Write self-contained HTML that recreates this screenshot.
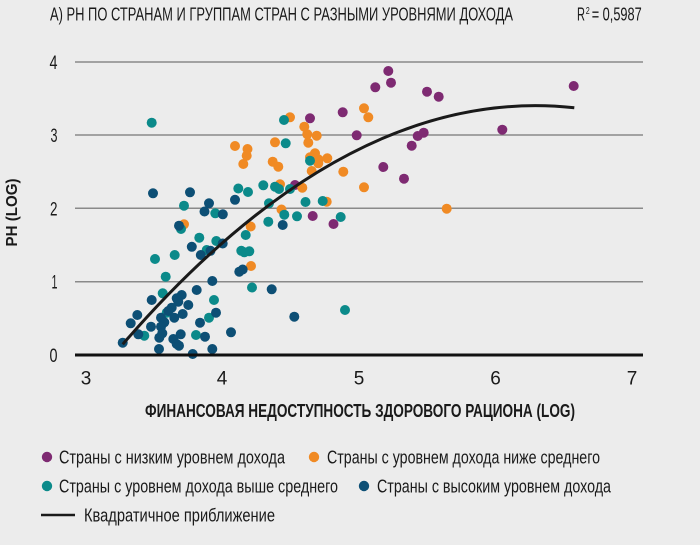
<!DOCTYPE html>
<html><head><meta charset="utf-8"><style>
html,body{margin:0;padding:0;background:#ececec;}
svg{display:block;}
text{font-family:"Liberation Sans Narrow","Liberation Sans",sans-serif;fill:#1a1a1a;}
</style></head><body>
<svg width="700" height="545" viewBox="0 0 700 545" xmlns="http://www.w3.org/2000/svg">
<rect width="700" height="545" fill="#ececec"/>
<text x="50" y="20.5" font-size="18" textLength="463" lengthAdjust="spacingAndGlyphs">А) РН ПО СТРАНАМ И ГРУППАМ СТРАН С РАЗНЫМИ УРОВНЯМИ ДОХОДА</text>
<text x="577" y="20.5" font-size="18" textLength="8" lengthAdjust="spacingAndGlyphs">R</text>
<text x="585.7" y="14" font-size="10" textLength="4" lengthAdjust="spacingAndGlyphs">2</text>
<text x="591.7" y="20.5" font-size="18" textLength="50" lengthAdjust="spacingAndGlyphs">= 0,5987</text>

<g stroke="#8a8a8a" stroke-width="1.5">
<line x1="75" y1="62" x2="643" y2="62"/>
<line x1="75" y1="135" x2="643" y2="135"/>
<line x1="75" y1="208.3" x2="643" y2="208.3"/>
<line x1="75" y1="281.7" x2="643" y2="281.7"/>
</g>

<g font-size="19" text-anchor="end">
<text x="57.5" y="69" textLength="8" lengthAdjust="spacingAndGlyphs">4</text>
<text x="57.5" y="142" textLength="7" lengthAdjust="spacingAndGlyphs">3</text>
<text x="57.5" y="215.5" textLength="7.5" lengthAdjust="spacingAndGlyphs">2</text>
<text x="57.5" y="288.7" textLength="6" lengthAdjust="spacingAndGlyphs">1</text>
<text x="57.5" y="362" textLength="8" lengthAdjust="spacingAndGlyphs">0</text>
</g>
<g font-size="19" text-anchor="middle">
<text x="86" y="384.5">3</text>
<text x="222" y="384.5">4</text>
<text x="359" y="384.5">5</text>
<text x="495.5" y="384.5">6</text>
<text x="632" y="384.5">7</text>
</g>
<text x="145" y="417" font-size="18" font-weight="bold" textLength="430" lengthAdjust="spacingAndGlyphs">ФИНАНСОВАЯ НЕДОСТУПНОСТЬ ЗДОРОВОГО РАЦИОНА (LOG)</text>
<text transform="translate(17,212.5) rotate(-90)" font-size="16" font-weight="bold" text-anchor="middle" textLength="68" lengthAdjust="spacingAndGlyphs">РН (LOG)</text>

<!-- purple -->
<g fill="#7e2a72">
<circle cx="388.3" cy="71" r="5"/><circle cx="391" cy="82.7" r="5"/><circle cx="375.3" cy="87.3" r="5"/>
<circle cx="427" cy="91.7" r="5"/><circle cx="438.7" cy="96.7" r="5"/><circle cx="573.7" cy="86" r="5"/>
<circle cx="342.7" cy="112.3" r="5"/><circle cx="310" cy="118.3" r="5"/><circle cx="356.7" cy="135.3" r="5"/>
<circle cx="417.7" cy="136" r="5"/><circle cx="423.7" cy="132.7" r="5"/><circle cx="411.7" cy="145.7" r="5"/>
<circle cx="502.3" cy="129.7" r="5"/><circle cx="383.3" cy="167" r="5"/><circle cx="404" cy="178.7" r="5"/>
<circle cx="295" cy="185" r="5"/><circle cx="312.7" cy="216" r="5"/><circle cx="333.5" cy="224" r="5"/>
</g>
<!-- orange -->
<g fill="#f08a24">
<circle cx="290" cy="117.3" r="5"/><circle cx="364" cy="108.3" r="5"/><circle cx="368.3" cy="117.3" r="5"/>
<circle cx="304.3" cy="126.7" r="5"/><circle cx="307.3" cy="134.3" r="5"/><circle cx="316.7" cy="135.7" r="5"/>
<circle cx="308.3" cy="142.7" r="5"/><circle cx="235" cy="146" r="5"/><circle cx="247.5" cy="149" r="5"/>
<circle cx="246.7" cy="155.7" r="5"/><circle cx="243.3" cy="164" r="5"/><circle cx="275" cy="142.3" r="5"/>
<circle cx="315" cy="153.3" r="5"/><circle cx="310" cy="157.3" r="5"/><circle cx="318.3" cy="159.3" r="5"/>
<circle cx="318.3" cy="163.3" r="5"/><circle cx="327.3" cy="158.3" r="5"/><circle cx="272.7" cy="161.7" r="5"/>
<circle cx="278.3" cy="166.7" r="5"/><circle cx="311.7" cy="171" r="5"/><circle cx="343.3" cy="171.7" r="5"/>
<circle cx="280" cy="184.3" r="5"/><circle cx="302.3" cy="187.7" r="5"/><circle cx="364" cy="187.3" r="5"/>
<circle cx="326.7" cy="201.7" r="5"/><circle cx="281.5" cy="209.5" r="5"/><circle cx="250.7" cy="226.5" r="5"/>
<circle cx="251" cy="266" r="5"/><circle cx="184" cy="224.3" r="5"/><circle cx="446.7" cy="208.7" r="5"/>
</g>
<!-- teal -->
<g fill="#0b8a8a">
<circle cx="151.7" cy="122.7" r="5"/><circle cx="284" cy="120" r="5"/><circle cx="285.7" cy="143.3" r="5"/>
<circle cx="310" cy="160.7" r="5"/><circle cx="263.3" cy="185.3" r="5"/><circle cx="238.3" cy="188.5" r="5"/>
<circle cx="248" cy="192" r="5"/><circle cx="275" cy="186.7" r="5"/><circle cx="279" cy="189" r="5"/>
<circle cx="290" cy="189" r="5"/><circle cx="269" cy="203.3" r="5"/><circle cx="305.5" cy="202" r="5"/>
<circle cx="322.7" cy="201" r="5"/><circle cx="284.3" cy="214.7" r="5"/><circle cx="297" cy="216.3" r="5"/>
<circle cx="340.7" cy="217" r="5"/><circle cx="268.3" cy="221.7" r="5"/><circle cx="184" cy="205.7" r="5"/>
<circle cx="215.3" cy="213.3" r="5"/><circle cx="181" cy="229" r="5"/><circle cx="245.7" cy="235" r="5"/>
<circle cx="199.3" cy="237.7" r="5"/><circle cx="216.3" cy="241" r="5"/><circle cx="206.7" cy="250" r="5"/>
<circle cx="241.3" cy="250.8" r="5"/><circle cx="249.3" cy="251.3" r="5"/><circle cx="244.3" cy="252.3" r="5"/>
<circle cx="174.7" cy="255" r="5"/><circle cx="155" cy="259" r="5"/><circle cx="165.7" cy="276.7" r="5"/>
<circle cx="252" cy="287.5" r="5"/><circle cx="162.7" cy="293.3" r="5"/><circle cx="214" cy="300" r="5"/>
<circle cx="166.7" cy="312.7" r="5"/><circle cx="209" cy="317.7" r="5"/><circle cx="144.3" cy="335.7" r="5"/>
<circle cx="196" cy="335" r="5"/><circle cx="345" cy="310" r="5"/>
</g>
<!-- navy -->
<g fill="#0d4f75">
<circle cx="153" cy="193.3" r="5"/><circle cx="190" cy="192.3" r="5"/><circle cx="209" cy="203.3" r="5"/>
<circle cx="235" cy="199.8" r="5"/><circle cx="204.5" cy="211.5" r="5"/><circle cx="222.8" cy="214.3" r="5"/>
<circle cx="179" cy="225.7" r="5"/><circle cx="222.7" cy="243.5" r="5"/><circle cx="191.8" cy="246.8" r="5"/>
<circle cx="210.5" cy="250.8" r="5"/><circle cx="200.8" cy="255" r="5"/><circle cx="242.7" cy="269.5" r="5"/>
<circle cx="239.3" cy="271.7" r="5"/><circle cx="212.3" cy="281" r="5"/><circle cx="271.7" cy="289.3" r="5"/>
<circle cx="196.7" cy="290" r="5"/><circle cx="181.7" cy="295" r="5"/><circle cx="176.7" cy="298.3" r="5"/>
<circle cx="151.7" cy="300" r="5"/><circle cx="178.3" cy="301.7" r="5"/><circle cx="188.3" cy="305" r="5"/>
<circle cx="171.7" cy="307.7" r="5"/><circle cx="168.3" cy="311" r="5"/><circle cx="216" cy="312.7" r="5"/>
<circle cx="137.3" cy="315" r="5"/><circle cx="182.7" cy="314" r="5"/><circle cx="174.3" cy="317.7" r="5"/>
<circle cx="161" cy="317.7" r="5"/><circle cx="130.7" cy="323.3" r="5"/><circle cx="164.3" cy="322.3" r="5"/>
<circle cx="161" cy="326.7" r="5"/><circle cx="200" cy="322.7" r="5"/><circle cx="151" cy="326.7" r="5"/>
<circle cx="138.3" cy="334.3" r="5"/><circle cx="162.3" cy="333.3" r="5"/><circle cx="159.3" cy="337.7" r="5"/>
<circle cx="180.7" cy="334.3" r="5"/><circle cx="173.3" cy="339" r="5"/><circle cx="205" cy="336.7" r="5"/>
<circle cx="231" cy="332.3" r="5"/><circle cx="176.7" cy="344" r="5"/><circle cx="179" cy="345.7" r="5"/>
<circle cx="122.7" cy="342.7" r="5"/><circle cx="159" cy="349" r="5"/><circle cx="212.3" cy="349" r="5"/>
<circle cx="192.7" cy="354" r="5"/><circle cx="282.7" cy="225" r="5"/><circle cx="294.3" cy="316.7" r="5"/>
</g>

<line x1="75" y1="355" x2="643" y2="355" stroke="#111" stroke-width="3"/>
<path d="M122.7,344.3 Q348.5,83.1 574.3,107.8" fill="none" stroke="#1a1a1a" stroke-width="3"/>

<!-- legend -->
<circle cx="47" cy="457" r="5.2" fill="#7e2a72"/>
<text x="59" y="463.5" font-size="18" textLength="226" lengthAdjust="spacingAndGlyphs">Страны с низким уровнем дохода</text>
<circle cx="314" cy="457" r="5.2" fill="#f08a24"/>
<text x="327" y="463.5" font-size="18" textLength="273" lengthAdjust="spacingAndGlyphs">Страны с уровнем дохода ниже среднего</text>
<circle cx="47" cy="486" r="5.2" fill="#0b8a8a"/>
<text x="59" y="492.5" font-size="18" textLength="279" lengthAdjust="spacingAndGlyphs">Страны с уровнем дохода выше среднего</text>
<circle cx="364" cy="486" r="5.2" fill="#0d4f75"/>
<text x="377" y="492.5" font-size="18" textLength="234" lengthAdjust="spacingAndGlyphs">Страны с высоким уровнем дохода</text>
<line x1="41" y1="515" x2="75" y2="515" stroke="#1a1a1a" stroke-width="2.5"/>
<text x="84" y="521.5" font-size="18" textLength="191" lengthAdjust="spacingAndGlyphs">Квадратичное приближение</text>
</svg>
</body></html>
